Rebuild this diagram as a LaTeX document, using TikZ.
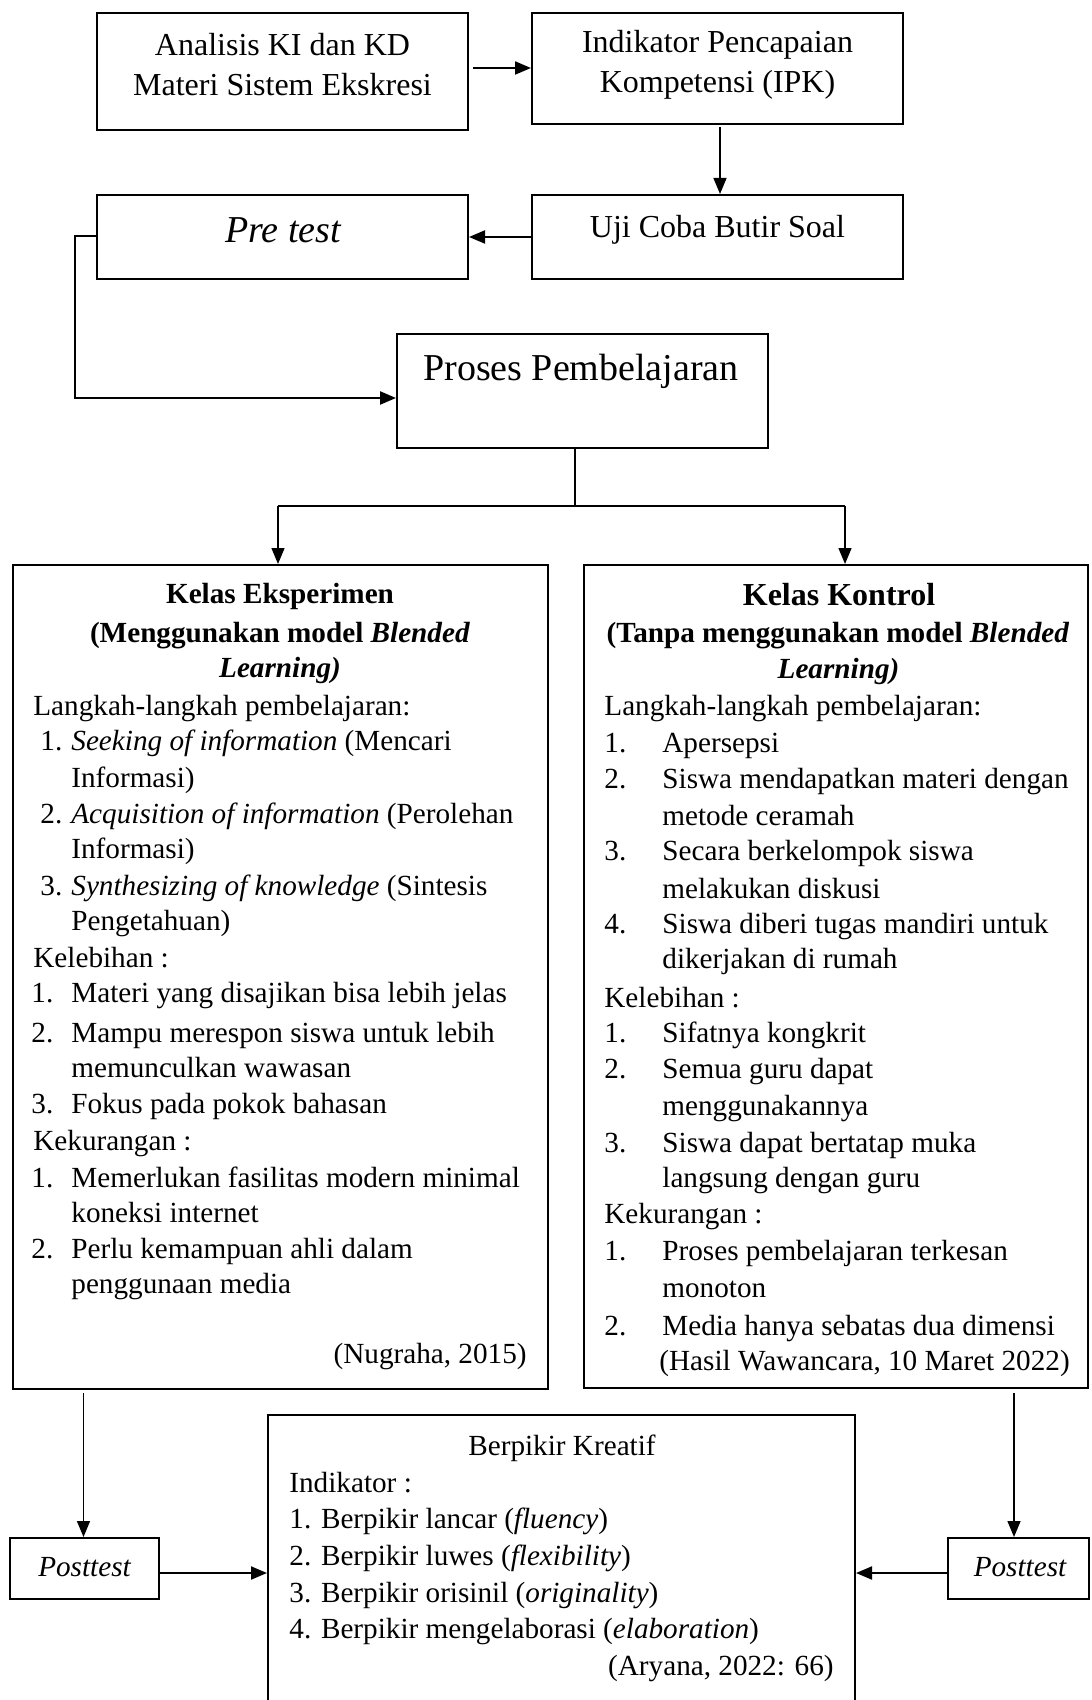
\documentclass[tikz,border=0pt]{standalone}
\usepackage{fontspec}
\setmainfont{Liberation Serif}
\usetikzlibrary{arrows.meta,fit}
\begin{document}
\begin{tikzpicture}[x=0.5pt,y=-0.5pt,
  box/.style={draw, line width=1pt, inner sep=0pt},
  arr/.style={-{Triangle[length=8pt,width=6.5pt]}, line width=0.7pt},
  ln/.style={line width=0.7pt},
  thk/.style={line width=1.4pt},
  t16/.style={inner sep=0pt, align=center, font=\fontsize{16}{20}\selectfont},
  t19/.style={inner sep=0pt, align=center, yshift=-1.5pt, font=\fontsize{19}{23}\selectfont},
  tx/.style={inner sep=0pt, anchor=mid west, yshift=-3pt, font=\fontsize{14.6}{18}\selectfont},
  tc/.style={inner sep=0pt, anchor=mid, yshift=-3pt, font=\fontsize{14.6}{18}\selectfont\bfseries},
  tr/.style={inner sep=0pt, anchor=mid east, yshift=-3pt, font=\fontsize{14.6}{18}\selectfont}
]
\useasboundingbox (0,0) rectangle (1091,1700);

% boxes
\node[box, fit={(97,13)(468,130)}] (b1) {};
\node[box, fit={(532,13)(903,124)}] (b2) {};
\node[box, fit={(532,195)(903,279)}] (uji) {};
\node[box, fit={(97,195)(468,279)}] (pre) {};
\node[box, fit={(397,334)(768,448)}] (proses) {};
\node[box, fit={(12.5,565)(547.5,1389)}] (eks) {};
\node[box, fit={(584,565)(1088,1388)}] (kon) {};
\node[box, fit={(268,1415)(855,1703)}] (bk) {};
\node[box, fit={(10,1538)(159,1599)}] (pl) {};
\node[box, fit={(948,1538)(1089,1599)}] (pr) {};

% top texts
\node[t16] (b1t) at (282.5,65) {Analisis KI dan KD\\Materi Sistem Ekskresi};
\node[t16] (b2t) at (717.5,65) {Indikator Pencapaian\\Kompetensi (IPK)};
\node[t16, yshift=-1.5pt] (ujit) at (717.5,227) {Uji Coba Butir Soal};
\node[t19, yshift=1.5pt] (pret) at (283,230) {\itshape Pre test};
\node[t19] (prosest) at (581,368) {Proses Pembelajaran};

% left big box
\node[tc] (e1) at (280,593) {Kelas Eksperimen};
\node[tc] (e2) at (280,632) {(Menggunakan model \textit{Blended}};
\node[tc] (e3) at (280,667) {\textit{Learning)}};
\node[tx] (e4) at (33,705) {Langkah-langkah pembelajaran:};
\node[tx] (e5n) at (40,740) {1.};
\node[tx] (e5) at (71,740) {\textit{Seeking of information} (Mencari};
\node[tx] (e6) at (71,777) {Informasi)};
\node[tx] (e7n) at (40,813) {2.};
\node[tx] (e7) at (71,813) {\textit{Acquisition of information} (Perolehan};
\node[tx] (e8) at (71,848) {Informasi)};
\node[tx] (e9n) at (40,885) {3.};
\node[tx] (e9) at (71,885) {\textit{Synthesizing of knowledge} (Sintesis};
\node[tx] (e10) at (71,920) {Pengetahuan)};
\node[tx] (e11) at (33,957) {Kelebihan :};
\node[tx] (e12n) at (31,992) {1.};
\node[tx] (e12) at (71,992) {Materi yang disajikan bisa lebih jelas};
\node[tx] (e13n) at (31,1032) {2.};
\node[tx] (e13) at (71,1032) {Mampu merespon siswa untuk lebih};
\node[tx] (e14) at (71,1067) {memunculkan wawasan};
\node[tx] (e15n) at (31,1103) {3.};
\node[tx] (e15) at (71,1103) {Fokus pada pokok bahasan};
\node[tx] (e16) at (33,1140) {Kekurangan :};
\node[tx] (e17n) at (31,1177) {1.};
\node[tx] (e17) at (71,1177) {Memerlukan fasilitas modern minimal};
\node[tx] (e18) at (71,1212) {koneksi internet};
\node[tx] (e19n) at (31,1248) {2.};
\node[tx] (e19) at (71,1248) {Perlu kemampuan ahli dalam};
\node[tx] (e20) at (71,1283) {penggunaan media};
\node[tr] (e21) at (527,1353) {(Nugraha, 2015)};

% right big box
\node[tc, font=\fontsize{16}{20}\selectfont\bfseries] (k1) at (839,595) {Kelas Kontrol};
\node[tc] (k2) at (838,632) {(Tanpa menggunakan model \textit{Blended}};
\node[tc] (k3) at (838.5,668) {\textit{Learning)}};
\node[tx] (k4) at (604,705) {Langkah-langkah pembelajaran:};
\node[tx] (k5n) at (604,742) {1.};
\node[tx] (k5) at (662,742) {Apersepsi};
\node[tx] (k6n) at (604,778) {2.};
\node[tx] (k6) at (662,778) {Siswa mendapatkan materi dengan};
\node[tx] (k7) at (662,815) {metode ceramah};
\node[tx] (k8n) at (604,850) {3.};
\node[tx] (k8) at (662,850) {Secara berkelompok siswa};
\node[tx] (k9) at (662,888) {melakukan diskusi};
\node[tx] (k10n) at (604,923) {4.};
\node[tx] (k10) at (662,923) {Siswa diberi tugas mandiri untuk};
\node[tx] (k11) at (662,958) {dikerjakan di rumah};
\node[tx] (k12) at (604,997) {Kelebihan :};
\node[tx] (k13n) at (604,1032) {1.};
\node[tx] (k13) at (662,1032) {Sifatnya kongkrit};
\node[tx] (k14n) at (604,1068) {2.};
\node[tx] (k14) at (662,1068) {Semua guru dapat};
\node[tx] (k15) at (662,1105) {menggunakannya};
\node[tx] (k16n) at (604,1142) {3.};
\node[tx] (k16) at (662,1142) {Siswa dapat bertatap muka};
\node[tx] (k17) at (662,1177) {langsung dengan guru};
\node[tx] (k18) at (604,1213) {Kekurangan :};
\node[tx] (k19n) at (604,1250) {1.};
\node[tx] (k19) at (662,1250) {Proses pembelajaran terkesan};
\node[tx] (k20) at (662,1287) {monoton};
\node[tx] (k21n) at (604,1325) {2.};
\node[tx] (k21) at (662,1325) {Media hanya sebatas dua dimensi};
\node[tx] (k22) at (659,1360) {(Hasil Wawancara, 10 Maret 2022)};

% bottom box
\node[tc, font=\fontsize{14.6}{18}\selectfont] (c1) at (562,1445) {Berpikir Kreatif};
\node[tx] (c2) at (289,1482) {Indikator :};
\node[tx] (c3) at (289,1518) {1. Berpikir lancar (\textit{fluency})};
\node[tx] (c4) at (289,1555) {2. Berpikir luwes (\textit{flexibility})};
\node[tx] (c5) at (289,1592) {3. Berpikir orisinil (\textit{originality})};
\node[tx] (c6) at (289,1628) {4. Berpikir mengelaborasi (\textit{elaboration})};
\node[tr] (c7) at (834,1665) {(Aryana, 2022: 66)};

\node[tc, yshift=1pt, font=\fontsize{14.6}{18}\selectfont\itshape] (plt) at (84.5,1568) {Posttest};
\node[tc, yshift=1pt, font=\fontsize{14.6}{18}\selectfont\itshape] (prt) at (1020,1568) {Posttest};

% connectors
\coordinate (a1) at (473,68);
\draw[arr, line width=1pt] (a1) -- (a1 -| b2.west);
\coordinate (a2) at (720,127);
\draw[arr] (a2) -- (a2 |- uji.north);
\draw[arr, line width=1pt] (uji.west) -- (pre.east);
\coordinate (p1) at (75,236);
\coordinate (p2) at (75,398);
\draw[line width=1.2pt, -{Triangle[length=8pt,width=6.5pt]}] (pre.west |- p1) -- (p1) -- (p2) -- (p2 -| proses.west);
\coordinate (s) at (575,506);
\coordinate (sL) at (278,506);
\coordinate (sR) at (845,506);
\draw[ln] (s |- proses.south) -- (s);
\draw[thk] (sL) -- (sR);
\draw[arr] (sL) -- (sL |- eks.north);
\draw[arr] (sR) -- (sR |- kon.north);
\coordinate (dl) at (83.5,1393);
\coordinate (dr) at (1014,1393);
\draw[arr] (dl) -- (dl |- pl.north);
\draw[arr] (dr) -- (dr |- pr.north);
\coordinate (hl) at (159,1573);
\draw[arr, line width=1pt] (hl) -- (hl -| bk.west);
\coordinate (hr) at (948,1573);
\draw[arr, line width=1pt] (hr) -- (hr -| bk.east);
\end{tikzpicture}
\end{document}
